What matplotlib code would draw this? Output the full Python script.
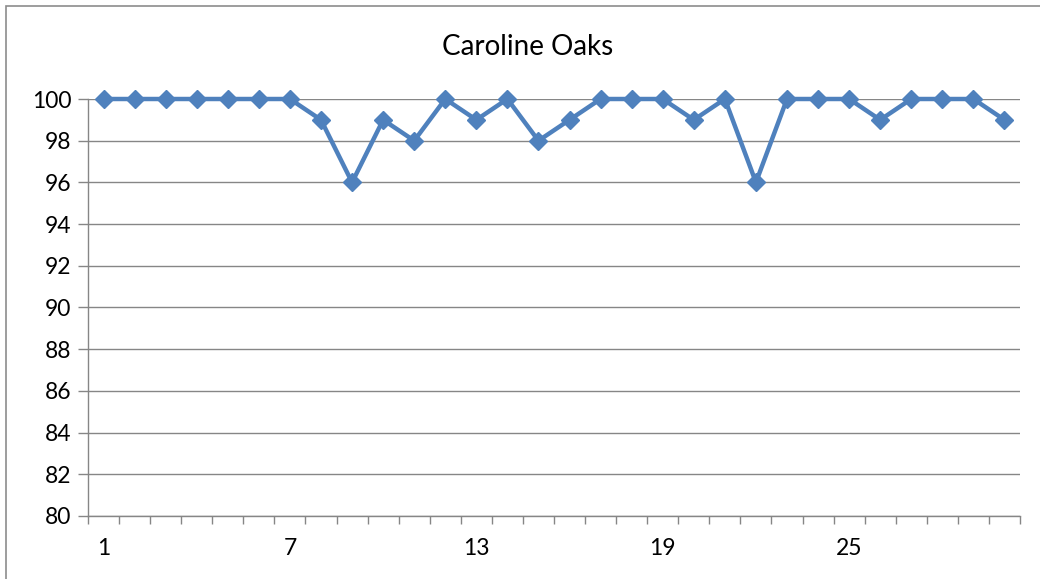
import matplotlib.pyplot as plt
from matplotlib.patches import Rectangle

# daily scores, day 1..30
days = list(range(1, 31))
scores = [100, 100, 100, 100, 100, 100, 100, 99, 96, 99,
          98, 100, 99, 100, 98, 99, 100, 100, 100, 99,
          100, 96, 100, 100, 100, 99, 100, 100, 100, 99]
shown_days = [1, 7, 13, 19, 25]
y_ticks = list(range(80, 101, 2))

plt.rcParams['font.family'] = ['Lato', 'DejaVu Sans']

fig = plt.figure(figsize=(10.4, 5.79), dpi=100)
ax = fig.add_axes([88 / 1040, 1 - 516 / 579, (1020 - 88) / 1040, (516 - 99) / 579])

# frame round the chart area
fig.patches.append(Rectangle((6 / 1040, -0.05), 1.1, 1 - 6 / 579 + 0.05,
                             transform=fig.transFigure, fill=False,
                             edgecolor='#8c8c8c', linewidth=1.2))

ax.plot(days, scores, color='#4f81bd', linewidth=3.2, marker='D',
        markersize=9.5, markeredgecolor='#4f81bd', zorder=3, clip_on=False)

ax.set_xlim(0.5, 30.5)
ax.set_ylim(80, 100)
ax.set_yticks(y_ticks)
ax.set_xticks(shown_days)
ax.set_xticks([d + 0.5 for d in range(0, 31)], minor=True)
ax.tick_params(axis='x', which='major', length=0, pad=16, labelsize=16.5)
ax.tick_params(axis='x', which='minor', length=6, color='#868686', width=1)
ax.tick_params(axis='y', length=7, color='#868686', width=1, labelsize=16.5, pad=5)

ax.grid(axis='y', color='#868686', linewidth=1)
ax.set_axisbelow(True)
for side in ['top', 'right']:
    ax.spines[side].set_visible(False)
for side in ['left', 'bottom']:
    ax.spines[side].set_color('#868686')
    ax.spines[side].set_linewidth(1)

fig.text(528 / 1040, 1 - 47 / 579, 'Caroline Oaks', ha='center', va='center', fontsize=20)

fig.savefig('out.png', dpi=100)
